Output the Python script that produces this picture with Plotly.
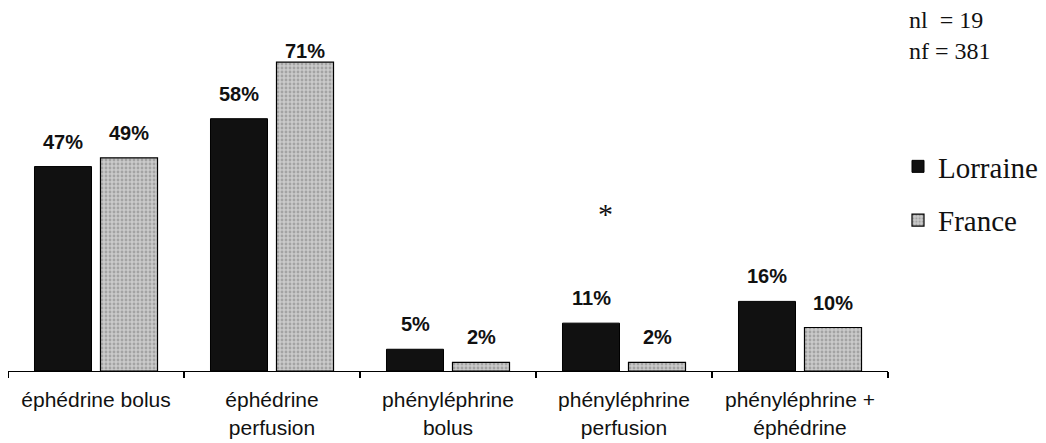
import plotly.graph_objects as go

categories = ["éphédrine bolus", "éphédrine<br>perfusion", "phényléphrine<br>bolus",
              "phényléphrine<br>perfusion", "phényléphrine +<br>éphédrine"]
lorraine = [47, 58, 5, 11, 16]
france = [49, 71, 2, 2, 10]
series_names = ["Lorraine", "France"]
sample_lines = ["nl  = 19", "nf = 381"]
significance_mark = "*"
significant_category = "phényléphrine<br>perfusion"

# page offset (default body margin of the html page)
OFF = 8
VIEW_W, VIEW_H = 1046, 443
W, H = VIEW_W - OFF, VIEW_H - OFF
# plot area in page pixels
P_L, P_R, P_T, P_BASE = 8, 888, 10, 371
PLOT_L, PLOT_R, PLOT_T, BASE = P_L - OFF, P_R - OFF, P_T - OFF, P_BASE - OFF
PX_PER_UNIT = 4.35
PW = PLOT_R - PLOT_L
PH = BASE - PLOT_T
YMAX = PH / PX_PER_UNIT


def px_x(page_x):
    return (page_x - P_L) / PW


def px_y(page_y):
    return (P_BASE - page_y) / PH


fig = go.Figure()
fig.add_trace(go.Bar(
    x=categories, y=lorraine, name=series_names[0], legendgroup="a",
    marker=dict(color="#111111", line=dict(color="#000000", width=1)),
))
fig.add_trace(go.Bar(
    x=categories, y=france, name=series_names[1], legendgroup="b",
    marker=dict(color="#bcbcbc", line=dict(color="#000000", width=1.2),
                pattern=dict(shape=".", fgcolor="#7c7c7c", bgcolor="#cacaca",
                             size=4, solidity=0.4)),
))

# value labels above bars
label_off = 25 / PX_PER_UNIT
label_cap = (P_BASE - 51) / PX_PER_UNIT
slot = 66
for vals, shift in ((lorraine, -slot / 2), (france, slot / 2)):
    for c, v in zip(categories, vals):
        fig.add_annotation(
            x=c, y=min(v + label_off, label_cap), xref="x", yref="y",
            xshift=shift, text=f"{v}%", showarrow=False, yanchor="middle",
            font=dict(family="Liberation Sans", size=20, color="#111111", weight="bold"),
        )

# significance asterisk
fig.add_annotation(
    x=significant_category, y=(P_BASE - 213) / PX_PER_UNIT, xref="x", yref="y",
    xshift=-19, text=significance_mark, showarrow=False, yanchor="middle",
    font=dict(family="Liberation Serif", size=30, color="#111111"),
)

# sample size note
fig.add_annotation(
    x=px_x(907), y=px_y(5),
    xref="paper", yref="paper", xanchor="left", yanchor="top", align="left",
    text="<br>".join(sample_lines), showarrow=False,
    font=dict(family="Liberation Serif", size=24, color="#111111"),
)

fig.update_layout(
    width=W, height=H,
    margin=dict(l=PLOT_L, r=W - PLOT_R, t=PLOT_T, b=H - BASE, autoexpand=False),
    paper_bgcolor="white", plot_bgcolor="white",
    barmode="group", bargap=0.25, bargroupgap=0.136,
    showlegend=True,
    legend=dict(
        x=px_x(898), y=px_y(141),
        xanchor="left", yanchor="top", tracegroupgap=13,
        font=dict(family="Liberation Serif", size=29, color="#111111"),
        bgcolor="rgba(0,0,0,0)", traceorder="grouped",
    ),
    xaxis=dict(
        automargin=False,
        showline=True, linecolor="#000000", linewidth=1,
        ticks="outside", tickson="boundaries", ticklen=6, tickwidth=2, tickcolor="#000000",
        showgrid=False, ticklabelstandoff=10,
        tickfont=dict(family="Liberation Sans", size=21, color="#111111"),
    ),
    yaxis=dict(visible=False, automargin=False, range=[0, YMAX], showgrid=False, zeroline=False),
)

fig.write_html("out.html")
